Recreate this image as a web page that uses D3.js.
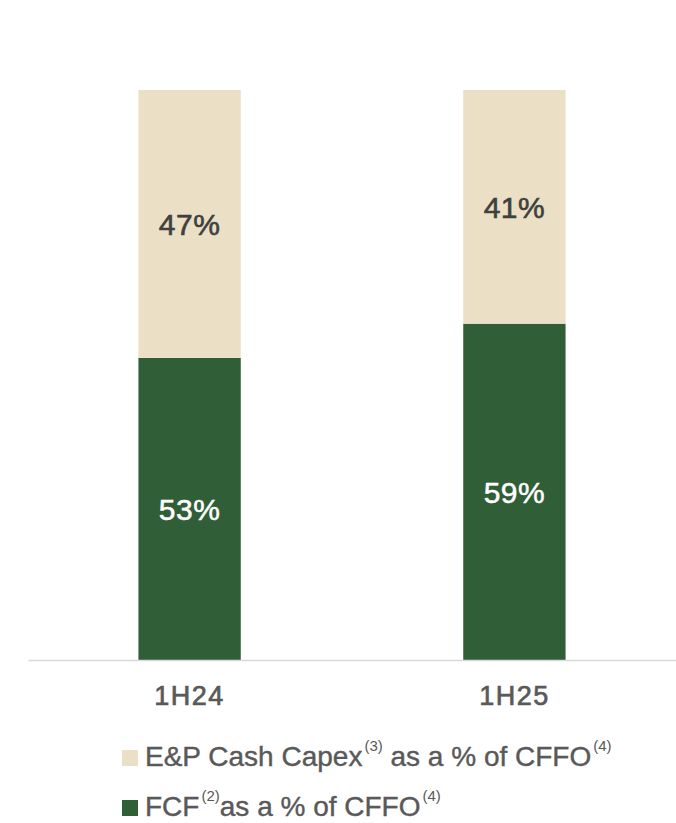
<!DOCTYPE html>
<html>
<head>
<meta charset="utf-8">
<script src="https://cdn.jsdelivr.net/npm/d3@7"></script>
<style>
  body { margin: 0; background: #fff; }
  svg { display: block; font-family: "Liberation Sans", Arial, sans-serif; }
</style>
</head>
<body>
<svg id="chart" width="676" height="823"></svg>
<script>
const categories = ["1H24", "1H25"];
const fcfValues = [53, 59];
const capexValues = [47, 41];
const seriesNames = ["E&P Cash Capex", "FCF"];

const svg = d3.select("#chart");

// scales
const x = d3.scaleBand()
            .domain(categories)
            .range([28, 676])
            .paddingInner(0.685)
            .paddingOuter(0.34);

const y = d3.scaleLinear()
            .domain([0, 100])
            .range([660, 90]);

const data = categories.map((c, i) => ({ cat: c, fcf: fcfValues[i], capex: capexValues[i] }));

// FCF bars (bottom)
svg.selectAll(".fcf")
   .data(data)
   .enter().append("rect")
   .attr("class", "fcf")
   .attr("x", d => x(d.cat))
   .attr("y", d => y(d.fcf))
   .attr("width", x.bandwidth())
   .attr("height", d => y(0) - y(d.fcf))
   .attr("fill", "#2f5e37");

// Capex bars (stacked on top)
svg.selectAll(".capex")
   .data(data)
   .enter().append("rect")
   .attr("class", "capex")
   .attr("x", d => x(d.cat))
   .attr("y", d => y(d.fcf + d.capex))
   .attr("width", x.bandwidth())
   .attr("height", d => y(d.fcf) - y(d.fcf + d.capex))
   .attr("fill", "#ebe0c5");

// value labels (slight stroke to get the medium weight of the original)
svg.selectAll(".fcf-label")
   .data(data)
   .enter().append("text")
   .attr("x", d => x(d.cat) + x.bandwidth() / 2)
   .attr("y", d => y(d.fcf / 2) + 11)
   .attr("text-anchor", "middle")
   .attr("font-size", 30)
   .attr("letter-spacing", 0.5)
   .attr("fill", "#ffffff")
   .attr("stroke", "#ffffff")
   .attr("stroke-width", 0.5)
   .text(d => d.fcf + "%");

svg.selectAll(".capex-label")
   .data(data)
   .enter().append("text")
   .attr("x", d => x(d.cat) + x.bandwidth() / 2)
   .attr("y", d => y(d.fcf + d.capex / 2) + 11)
   .attr("text-anchor", "middle")
   .attr("font-size", 30)
   .attr("letter-spacing", 0.5)
   .attr("fill", "#404040")
   .attr("stroke", "#404040")
   .attr("stroke-width", 0.6)
   .text(d => d.capex + "%");

// baseline axis
const axis = svg.append("g")
   .attr("transform", `translate(0,${y(0)})`)
   .call(d3.axisBottom(x).tickSize(0).tickPadding(26));
axis.select(".domain").attr("stroke", "#d9d9d9").attr("stroke-width", 1.5);
axis.selectAll("text")
    .attr("font-size", 27)
    .attr("letter-spacing", 1.5)
    .attr("font-family", "Liberation Sans, Arial, sans-serif")
    .attr("fill", "#595959")
    .attr("stroke", "#595959")
    .attr("stroke-width", 0.7);

// legend
const legend = [
  { name: seriesNames[0], sup1: "(3)", rest: " as a % of CFFO", color: "#ebe0c5", y: 766 },
  { name: seriesNames[1], sup1: "(2)", rest: "as a % of CFFO", color: "#2f5e37", y: 816 }
];

legend.forEach(l => {
  svg.append("rect")
     .attr("x", 122).attr("y", l.y - 16)
     .attr("width", 16).attr("height", 16)
     .attr("fill", l.color);
  const t = svg.append("text")
     .attr("x", 145).attr("y", l.y)
     .attr("font-size", 28)
     .attr("fill", "#595959")
     .attr("stroke", "#595959")
     .attr("stroke-width", 0.4);
  t.append("tspan").text(l.name);
  t.append("tspan").attr("font-size", 15).attr("stroke-width", 0).attr("dx", 2).attr("dy", -15).text(l.sup1);
  t.append("tspan").attr("dy", 15).text(l.rest);
  t.append("tspan").attr("font-size", 15).attr("stroke-width", 0).attr("dx", 2).attr("dy", -15).text("(4)");
});
</script>
</body>
</html>
